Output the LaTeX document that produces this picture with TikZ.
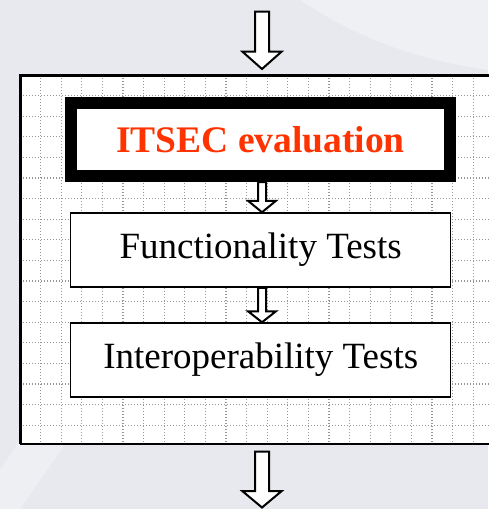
\documentclass[tikz,border=0pt]{standalone}
\usepackage{fontspec}
\setmainfont{Liberation Serif}
\usetikzlibrary{calc}
\definecolor{bgc}{RGB}{231,233,238}
\definecolor{itsecred}{RGB}{255,51,0}
\definecolor{dotgray}{RGB}{150,150,150}
\newcommand{\blockarr}[5]{%
  \draw[blockarrow] let \p1=(#1), \p2=(#2) in
    (\x1-#3pt,\y1) -- (\x1-#3pt,\y2+#5pt) -- (\x1-#4pt,\y2+#5pt) -- (\x1,\y2)
    -- (\x1+#4pt,\y2+#5pt) -- (\x1+#3pt,\y2+#5pt) -- (\x1+#3pt,\y1) -- cycle;}
\begin{document}
\begin{tikzpicture}[x=1pt,y=-1pt,
  blockarrow/.style={draw=black,fill=white,line width=2pt,line join=miter},
  gridline/.style={dotgray,line width=1.1pt,dash pattern=on 1.1pt off 1.9pt},
  plainbox/.style={draw=black,fill=white,line width=1.5pt,minimum width=380pt,
     minimum height=74pt,inner sep=0pt,font=\fontsize{37}{40}\selectfont},
  itsecbox/.style={draw=black,fill=white,line width=12pt,minimum width=379pt,
     minimum height=73pt,inner sep=0pt,text=itsecred,
     font=\fontsize{37.5}{40}\selectfont\bfseries}]
\useasboundingbox (0,0) rectangle (488,509);
% background
\fill[bgc] (0,0) rectangle (488,509);
\fill[white,opacity=0.35] (300,0) .. controls (360,40) and (420,60) .. (488,70) -- (488,0) -- cycle;
\fill[white,opacity=0.3] (0,470) -- (60,380) -- (110,380) -- (20,509) -- (0,509) -- cycle;
% outer gridded frame
\node[draw=black,fill=white,line width=1.5pt,minimum width=476pt,minimum height=368pt,
      inner sep=0pt,anchor=north west] (frame) at (20,75) {};
\begin{scope}
  \clip (20.75,75.75) rectangle (492,442.5);
  \foreach \i in {1,...,22} \draw[gridline] (20+20.6*\i,75) -- (20+20.6*\i,443);
  \foreach \j in {1,...,17} \draw[gridline] (20,75+20.6*\j) -- (492,75+20.6*\j);
\end{scope}
\draw[black,line width=1.5pt] (20,75) rectangle (496,443.3);
% boxes
\node[itsecbox] (itsec) at (260.5,139.5) {ITSEC evaluation};
\node[plainbox] (func) at (260.7,250) {Functionality Tests};
\node[plainbox] (interop) at (260.7,360) {Interoperability Tests};
% arrow axis and free ends
\coordinate (axis) at (262,0);
\coordinate (topstart) at (262,11.7);
\coordinate (toptip) at (262,69);
\coordinate (botstart) at (262,451.7);
\coordinate (bottip) at (262,507.5);
% arrows
\blockarr{topstart}{toptip}{7}{19.5}{17.3}
\blockarr{itsec.south -| axis}{func.north -| axis}{4}{14}{11.5}
\blockarr{func.south -| axis}{interop.north -| axis}{4}{14}{11}
\blockarr{botstart}{bottip}{7}{19.5}{16.3}
\end{tikzpicture}
\end{document}
